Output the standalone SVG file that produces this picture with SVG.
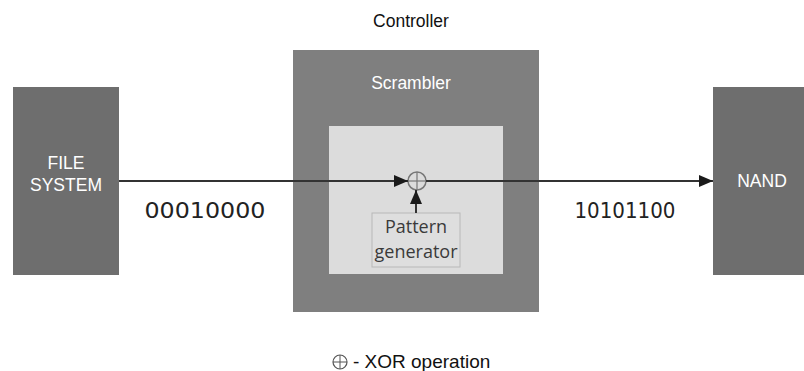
<svg xmlns="http://www.w3.org/2000/svg" width="804" height="371" viewBox="0 0 804 371">
<defs>
<marker id="ah" markerWidth="14" markerHeight="12" refX="14" refY="6" orient="auto" markerUnits="userSpaceOnUse">
<path d="M0,0 L14,6 L0,12 Z" fill="#1a1a1a"/>
</marker>
</defs>
<style>
.lbl{font-family:"Liberation Sans",Arial,sans-serif;font-size:17.5px;text-anchor:middle}
.w{fill:#ffffff}
.k{fill:#111111}
.num{font-family:"DejaVu Sans",sans-serif;font-size:22px;fill:#222;text-anchor:middle}
.pg{font-family:"Open Sans","Noto Sans",sans-serif;font-size:18px;fill:#3a3a3a;text-anchor:middle}
.conn{stroke:#333;stroke-width:2;fill:none}
</style>
<rect width="804" height="371" fill="#ffffff"/>
<text class="lbl k" x="411" y="27">Controller</text>
<g id="filesystem">
<rect x="13" y="87" width="106" height="188" fill="#6e6e6e"/>
<text class="lbl w" x="66" y="169">FILE</text>
<text class="lbl w" x="66" y="191">SYSTEM</text>
</g>
<g id="scrambler">
<rect x="293" y="50" width="246" height="262" fill="#7f7f7f"/>
<text class="lbl w" x="411" y="89">Scrambler</text>
<rect x="329" y="126" width="174" height="148" fill="#dcdcdc"/>
</g>
<g id="pattern">
<rect x="372" y="213" width="88" height="54" fill="#dedede" stroke="#b8b8b8" stroke-width="1"/>
<text class="pg" x="416" y="233">Pattern</text>
<text class="pg" x="416" y="258">generator</text>
</g>
<g id="xor">
<circle cx="417" cy="181" r="9" fill="none" stroke="#777" stroke-width="1.5"/>
<line x1="408" y1="181" x2="426" y2="181" stroke="#777" stroke-width="1.2"/>
<line x1="417" y1="172" x2="417" y2="190" stroke="#777" stroke-width="1.2"/>
</g>
<g id="nand">
<rect x="713" y="87" width="91" height="188" fill="#6e6e6e"/>
<text class="lbl w" x="762" y="187">NAND</text>
</g>
<g id="connectors">
<line class="conn" x1="119" y1="181" x2="408" y2="181" marker-end="url(#ah)"/>
<line class="conn" x1="426" y1="181" x2="713" y2="181" marker-end="url(#ah)"/>
<line class="conn" x1="416" y1="213" x2="416" y2="190" marker-end="url(#ah)"/>
</g>
<text class="num" x="205" y="218" textLength="121" lengthAdjust="spacingAndGlyphs">00010000</text>
<text class="num" x="625" y="218" textLength="101" lengthAdjust="spacingAndGlyphs">10101100</text>
<g id="legend">
<circle cx="340" cy="362" r="7" fill="none" stroke="#555" stroke-width="1.2"/>
<line x1="333" y1="362" x2="347" y2="362" stroke="#555" stroke-width="1"/>
<line x1="340" y1="355" x2="340" y2="369" stroke="#555" stroke-width="1"/>
<text class="lbl k" x="353" y="368" style="text-anchor:start;font-size:19px">- XOR operation</text>
</g>
</svg>
